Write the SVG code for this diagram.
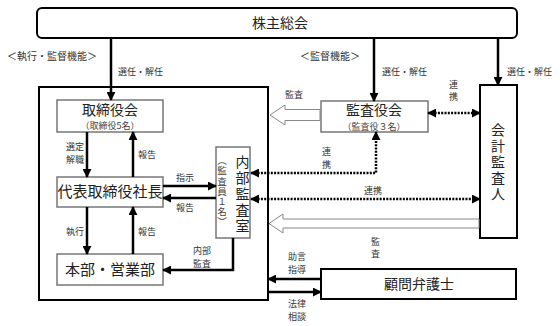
<svg xmlns="http://www.w3.org/2000/svg" width="560" height="326" viewBox="0 0 560 326">
<defs>
<marker id="ah" viewBox="0 0 10 10" refX="9" refY="5" markerWidth="9" markerHeight="9" markerUnits="userSpaceOnUse" orient="auto-start-reverse">
<path d="M0,0 L10,5 L0,10 z" fill="#000"/>
</marker>
</defs>
<style>
text{font-family:"Noto Sans CJK JP","Noto Sans",sans-serif;fill:#333}
.lbl{font-size:9px}
.big{font-size:14px;fill:#222}
.sub{font-size:9px;fill:#444}
.vert{writing-mode:vertical-rl}
.box{fill:#fff;stroke:#777;stroke-width:1.5}
.bold{fill:#fff;stroke:#000;stroke-width:2}
.arr{fill:none;stroke:#000;stroke-width:2.5}
.dot{fill:none;stroke:#000;stroke-width:2.5;stroke-dasharray:2 1.3}
.hollow{fill:#fff;stroke:#888;stroke-width:1}
</style>
<rect width="560" height="326" fill="#fff"/>

<g id="shareholders">
<rect x="37" y="8" width="480" height="30" rx="5" class="bold"/>
<text x="280" y="28" text-anchor="middle" class="big">株主総会</text>
</g>

<g id="company">
<rect x="39" y="87" width="229" height="213" fill="none" stroke="#000" stroke-width="2"/>
</g>

<g id="board">
<rect x="57" y="100" width="106" height="32" class="box"/>
<text x="110" y="114.5" text-anchor="middle" class="big">取締役会</text>
<text x="110" y="128.5" text-anchor="middle" class="sub">（取締役5名）</text>
</g>

<g id="president">
<rect x="57" y="177" width="106" height="30" class="box"/>
<text x="110" y="197" text-anchor="middle" class="big" style="font-size:15px">代表取締役社長</text>
</g>

<g id="divisions">
<rect x="57" y="254" width="106" height="31" class="box"/>
<text x="110" y="275" text-anchor="middle" class="big" style="font-size:15px">本部・営業部</text>
</g>

<g id="internal-audit">
<rect x="216" y="147" width="34" height="91" class="box"/>
<text x="242.5" y="155" class="big vert" style="letter-spacing:2px">内部監査室</text>
<text x="222" y="156" class="sub vert" style="font-size:9.5px;letter-spacing:0.6px">（監査員１名）</text>
</g>

<g id="auditors">
<rect x="321" y="101" width="107" height="31" class="box"/>
<text x="374" y="114.5" text-anchor="middle" class="big">監査役会</text>
<text x="374" y="129.5" text-anchor="middle" class="sub">（監査役３名）</text>
</g>

<g id="accounting-auditor">
<rect x="480" y="85" width="37" height="153" class="bold"/>
<text x="498" y="123" class="big vert" style="letter-spacing:2px">会計監査人</text>
</g>

<g id="lawyer">
<rect x="321" y="269" width="195" height="30" class="bold"/>
<text x="419" y="289" text-anchor="middle" class="big">顧問弁護士</text>
</g>

<g id="connectors">
<line x1="111" y1="38" x2="111" y2="100" class="arr" marker-end="url(#ah)"/>
<line x1="374" y1="38" x2="374" y2="101" class="arr" marker-end="url(#ah)"/>
<line x1="498" y1="38" x2="498" y2="85" class="arr" marker-end="url(#ah)"/>
<line x1="87" y1="132" x2="87" y2="177" class="arr" marker-end="url(#ah)"/>
<line x1="133" y1="177" x2="133" y2="132" class="arr" marker-end="url(#ah)"/>
<line x1="87" y1="207" x2="87" y2="254" class="arr" marker-end="url(#ah)"/>
<line x1="133" y1="254" x2="133" y2="207" class="arr" marker-end="url(#ah)"/>
<line x1="163" y1="186" x2="216" y2="186" class="arr" marker-end="url(#ah)"/>
<line x1="216" y1="198" x2="163" y2="198" class="arr" marker-end="url(#ah)"/>
<path d="M233 238 V270 H163" class="arr" marker-end="url(#ah)"/>
<line x1="428" y1="113" x2="480" y2="113" class="dot" marker-start="url(#ah)" marker-end="url(#ah)"/>
<path d="M251 173 H376 V132" class="dot" marker-start="url(#ah)" marker-end="url(#ah)"/>
<line x1="251" y1="199" x2="480" y2="199" class="dot" marker-start="url(#ah)" marker-end="url(#ah)"/>
<polygon points="320,109.5 285,109.5 285,105 270,115 285,125 285,120.5 320,120.5" class="hollow"/>
<polygon points="479,219 283,219 283,214 269,223.5 283,233 283,228 479,228" class="hollow"/>
<line x1="321" y1="279" x2="268" y2="279" class="arr" marker-end="url(#ah)"/>
<line x1="268" y1="292" x2="321" y2="292" class="arr" marker-end="url(#ah)"/>
</g>

<g id="labels">
<text x="7" y="60" class="lbl" style="font-size:10px">＜執行・監督機能＞</text>
<text x="118" y="75" class="lbl">選任・解任</text>
<text x="300" y="60" class="lbl" style="font-size:10px">＜監督機能＞</text>
<text x="382" y="75" class="lbl">選任・解任</text>
<text x="507" y="75" class="lbl">選任・解任</text>
<text x="285" y="98" class="lbl">監査</text>
<text x="453.5" y="80" class="lbl vert" style="letter-spacing:3px">連携</text>
<text x="66" y="150" class="lbl">選定</text>
<text x="66" y="163" class="lbl">解職</text>
<text x="138" y="158" class="lbl">報告</text>
<text x="176" y="181" class="lbl">指示</text>
<text x="176" y="211" class="lbl">報告</text>
<text x="326.5" y="147" class="lbl vert" style="letter-spacing:4px">連携</text>
<text x="364" y="194" class="lbl">連携</text>
<text x="66" y="235" class="lbl">執行</text>
<text x="138" y="235" class="lbl">報告</text>
<text x="193" y="254" class="lbl">内部</text>
<text x="193" y="267" class="lbl">監査</text>
<text x="375.5" y="237" class="lbl vert" style="letter-spacing:3px">監査</text>
<text x="288" y="260" class="lbl">助言</text>
<text x="288" y="273" class="lbl">指導</text>
<text x="288" y="307" class="lbl">法律</text>
<text x="288" y="320" class="lbl">相談</text>
</g>
</svg>
